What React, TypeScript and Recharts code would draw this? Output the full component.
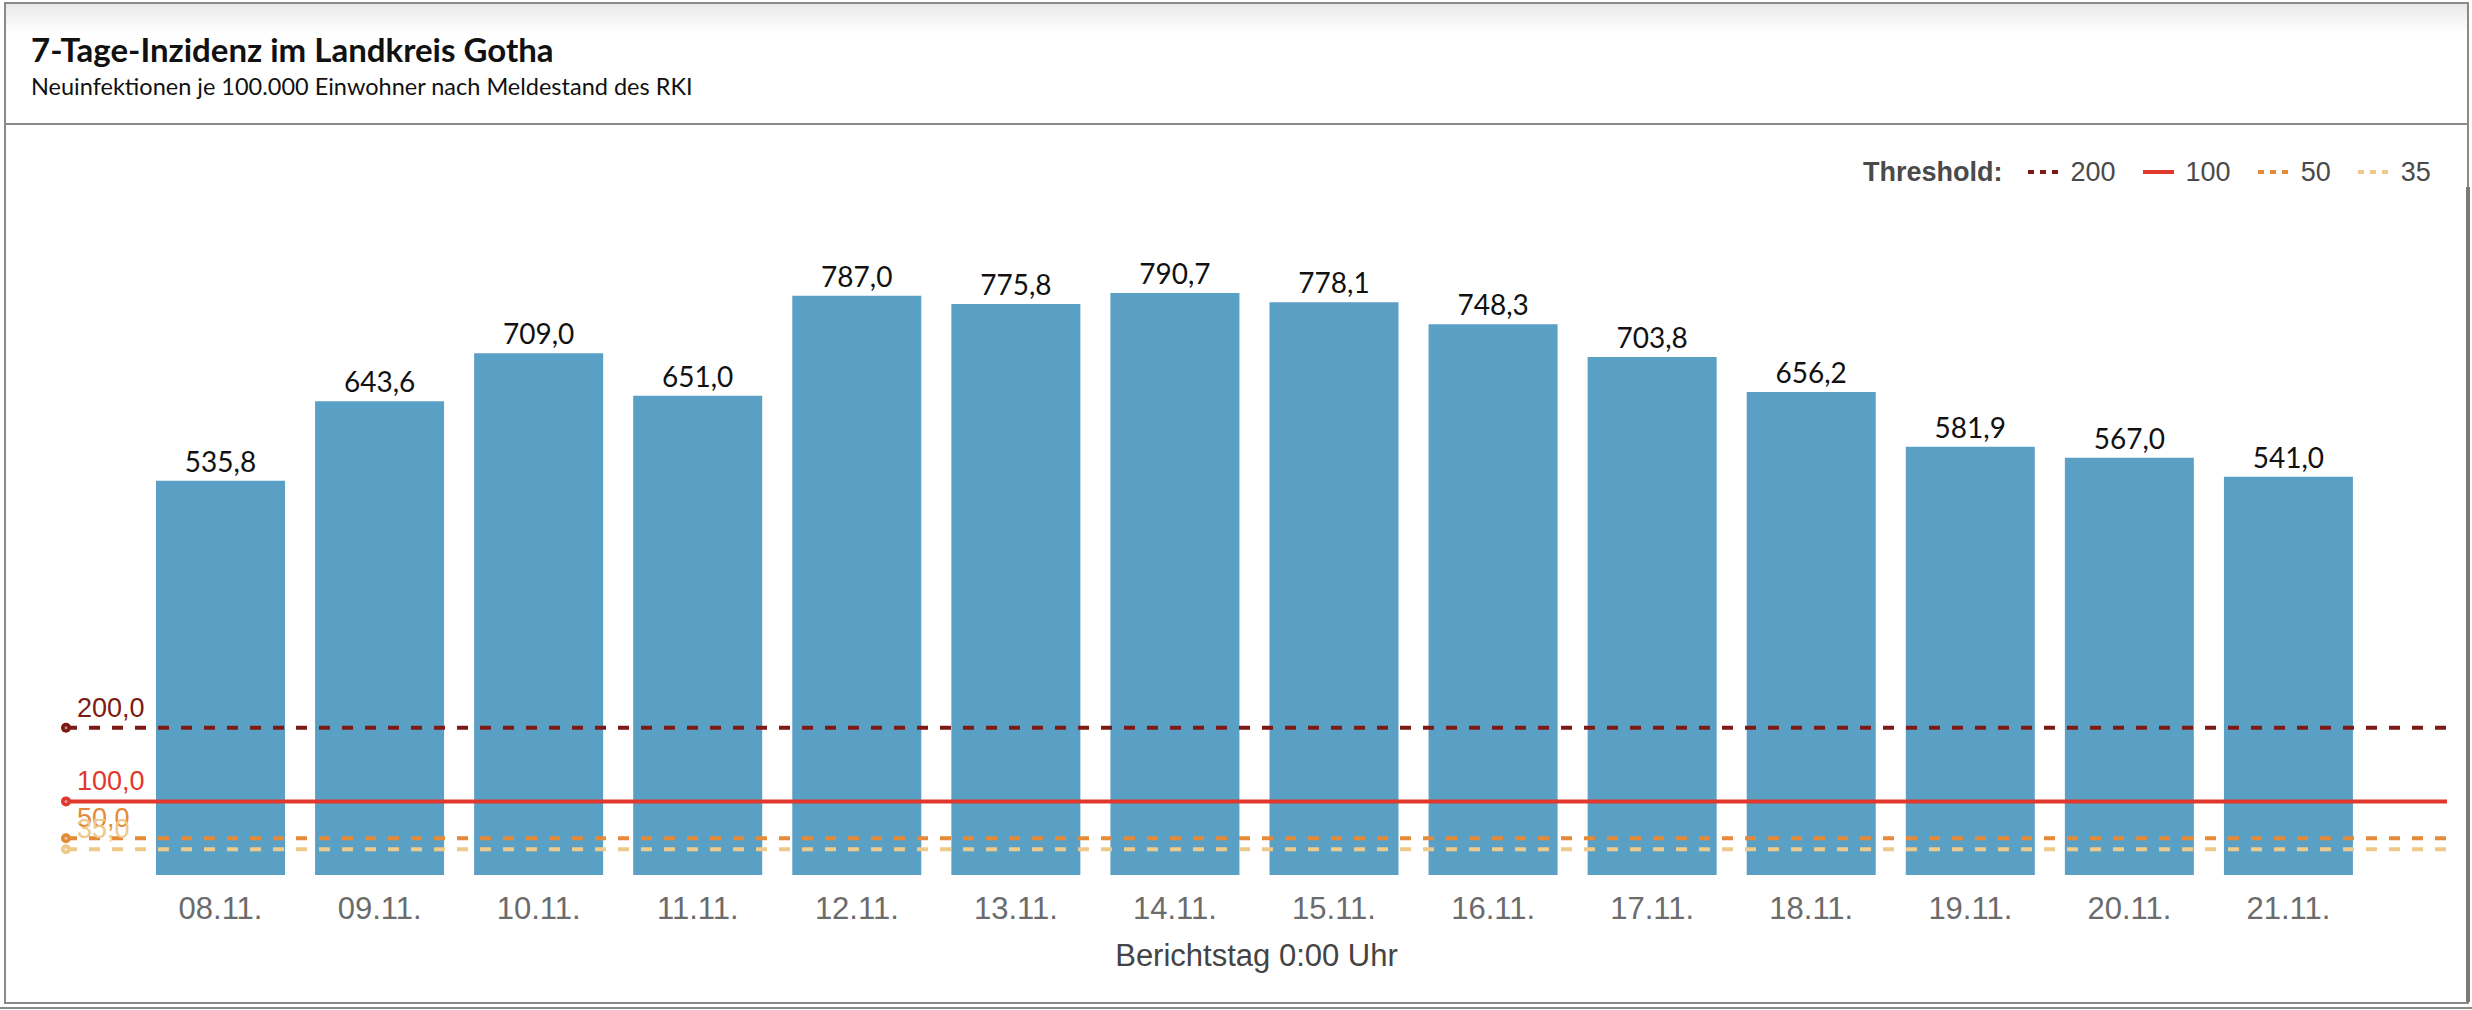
import React from "react";
import {
  BarChart,
  Bar,
  XAxis,
  YAxis,
  LabelList,
  ReferenceLine,
  Label,
} from "recharts";

// Berichtstage und 7-Tage-Inzidenz
const days = [
  "08.11.", "09.11.", "10.11.", "11.11.", "12.11.", "13.11.", "14.11.",
  "15.11.", "16.11.", "17.11.", "18.11.", "19.11.", "20.11.", "21.11.",
];
const incidence = [
  535.8, 643.6, 709.0, 651.0, 787.0, 775.8, 790.7,
  778.1, 748.3, 703.8, 656.2, 581.9, 567.0, 541.0,
];

// Schwellenwerte
const thresholds = [200, 100, 50, 35];
const thresholdColors = ["#7d1a15", "#e0382c", "#e58a38", "#eec98a"];
const thresholdDashed = [true, false, true, true];

const BAR_FILL = "#5a9fc4";
const SANS = '"Liberation Sans", Arial, Helvetica, sans-serif';

const chartData = days.map((day, i) => ({ day, value: incidence[i] }));

const fmt = (v: number) => v.toFixed(1).replace(".", ",");

function ThresholdLabel({ viewBox, value, color }: any) {
  const { x, y } = viewBox ?? { x: 0, y: 0 };
  return (
    <g>
      <circle cx={x} cy={y} r={5} fill={color} />
      <circle cx={x} cy={y} r={1.5} fill="#fff" opacity={0.5} />
      <text x={x + 11} y={y - 11} fill={color} fontSize={27} fontFamily={SANS}>
        {fmt(value)}
      </text>
    </g>
  );
}

function ThresholdLegend() {
  return (
    <div
      style={{
        position: "absolute",
        left: 1863,
        top: 155,
        display: "flex",
        alignItems: "center",
        fontFamily: SANS,
        fontSize: 27,
        color: "#4a4a4a",
        height: 34,
      }}
    >
      <span style={{ fontWeight: "bold", marginRight: 25 }}>Threshold:</span>
      {thresholds.map((t, i) => (
        <span key={t} style={{ display: "flex", alignItems: "center", marginRight: 27 }}>
          <svg width={31} height={10} style={{ marginRight: 12 }}>
            <line
              x1={0}
              y1={5}
              x2={31}
              y2={5}
              stroke={thresholdColors[i]}
              strokeWidth={4}
              strokeDasharray={thresholdDashed[i] ? "6 6" : undefined}
            />
          </svg>
          {t}
        </span>
      ))}
    </div>
  );
}

export default function App() {
  return (
    <div style={{ position: "relative", width: 2472, height: 1010, background: "#fff", overflow: "hidden" }}>
      <style>{`body{margin:0}`}</style>

      {/* Kartenrahmen */}
      <div
        style={{
          position: "absolute",
          left: 4,
          top: 2,
          width: 2461,
          height: 998,
          border: "2px solid #8a8a8a",
          background: "linear-gradient(#e9e9e9 0px, #ffffff 30px)",
        }}
      />
      <div style={{ position: "absolute", left: 4, top: 123, width: 2465, height: 2, background: "#8a8a8a" }} />
      <div style={{ position: "absolute", left: 2466, top: 187, width: 4, height: 815, background: "#7a7a7a" }} />
      <div style={{ position: "absolute", left: 0, top: 1007, width: 2472, height: 2, background: "#8a8a8a" }} />

      {/* Kopf */}
      <div
        style={{
          position: "absolute",
          left: 31,
          top: 29,
          fontFamily: "Lato, sans-serif",
          fontWeight: 700,
          fontSize: 33,
          color: "#111",
          lineHeight: "40px",
        }}
      >
        7-Tage-Inzidenz im Landkreis Gotha
      </div>
      <div
        style={{
          position: "absolute",
          left: 31,
          top: 72,
          fontFamily: "Lato, sans-serif",
          fontSize: 23.5,
          color: "#111",
          lineHeight: "28px",
        }}
      >
        Neuinfektionen je 100.000 Einwohner nach Meldestand des RKI
      </div>

      <ThresholdLegend />

      <div style={{ position: "absolute", left: 0, top: 0 }}>
        <BarChart
          width={2472}
          height={1010}
          data={chartData}
          margin={{ top: 139, right: 25, bottom: 75, left: 66 }}
        >
          <XAxis
            dataKey="day"
            height={60}
            axisLine={false}
            tickLine={false}
            tickMargin={16}
            padding={{ left: 75, right: 79 }}
            tick={{ fill: "#6b6b6b", fontSize: 31, fontFamily: SANS }}
            interval={0}
          >
            <Label
              value="Berichtstag 0:00 Uhr"
              position="bottom"
              offset={9}
              fill="#444"
              fontSize={31}
              fontFamily={SANS}
            />
          </XAxis>
          <YAxis hide domain={[0, 1000]} />
          <Bar dataKey="value" fill={BAR_FILL} barSize={129} isAnimationActive={false}>
            <LabelList
              dataKey="value"
              position="top"
              offset={9}
              formatter={(v: any) => fmt(Number(v))}
              fill="#111"
              fontSize={28}
              fontFamily="Lato, sans-serif"
            />
          </Bar>
          {thresholds.map((t, i) => (
            <ReferenceLine
              key={t}
              y={t}
              stroke={thresholdColors[i]}
              strokeWidth={4}
              strokeDasharray={thresholdDashed[i] ? "11 12" : undefined}
              label={(props: any) => (
                <ThresholdLabel {...props} value={t} color={thresholdColors[i]} />
              )}
            />
          ))}
        </BarChart>
      </div>
    </div>
  );
}
